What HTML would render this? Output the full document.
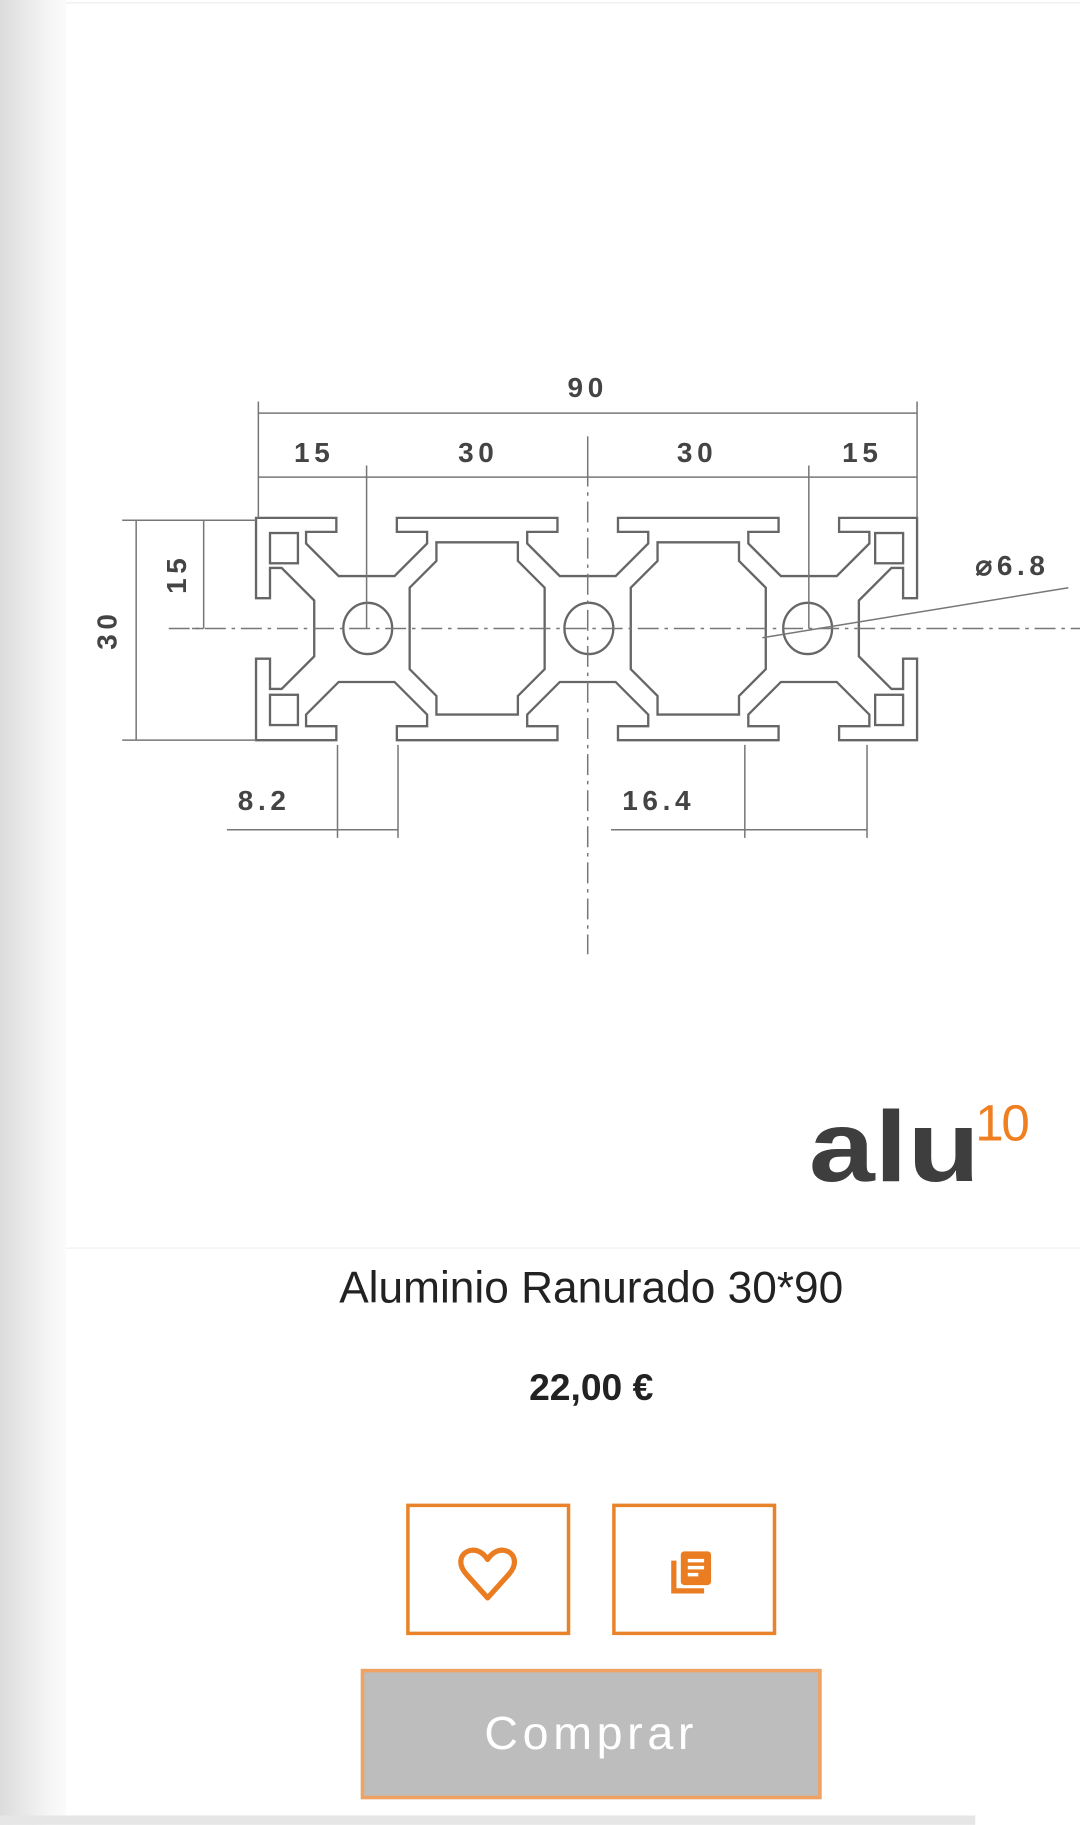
<!DOCTYPE html>
<html><head><meta charset="utf-8"><style>
html,body{margin:0;padding:0;background:#fff;}
body{width:1080px;height:1824px;overflow:hidden;position:relative;}
#w{position:absolute;left:0;top:0;width:928px;height:1568px;transform:scale(1.16379);transform-origin:0 0;font-family:"Liberation Sans",sans-serif;}
.shadow{position:absolute;left:0;top:0;width:57px;height:1568px;background:linear-gradient(90deg,#dcdcdc,#f4f4f4 70%,#fbfbfb);}
.bot{position:absolute;left:0;top:1560px;width:838px;height:8px;background:#e6e6e6;}
.sep{position:absolute;left:57px;top:1072px;width:871px;height:1px;background:#f0f0f0;}
.t{position:absolute;left:208px;width:600px;text-align:center;}
.box{position:absolute;border:3px solid #e8832a;box-sizing:border-box;width:141px;height:113px;top:1292px;}
</style></head><body><div id="w">
<div class="shadow"></div>
<div style="position:absolute;left:57px;top:2px;width:871px;height:1px;background:#ececec"></div>
<svg width="928" height="1080" style="position:absolute;left:0;top:0" font-family="Liberation Sans" font-weight="bold" fill="none">
<g stroke="#777" stroke-width="1.3">
<path d="M220,445 H289 l0,12 l-26,0 l0,10 l28,28 l48,0 l28,-28 l0,-10 l-26,0 l0,-12 H479 l0,12 l-26,0 l0,10 l28,28 l48,0 l28,-28 l0,-10 l-26,0 l0,-12 H669 l0,12 l-26,0 l0,10 l28,28 l48,0 l28,-28 l0,-10 l-26,0 l0,-12 H788 V514 l-12,0 l0,-26 l-10,0 l-28,28 l0,48 l28,28 l10,0 l0,-26 l12,0 V636 H721 l0,-12 l26,0 l0,-10 l-28,-28 l-48,0 l-28,28 l0,10 l26,0 l0,12 H531 l0,-12 l26,0 l0,-10 l-28,-28 l-48,0 l-28,28 l0,10 l26,0 l0,12 H341 l0,-12 l26,0 l0,-10 l-28,-28 l-48,0 l-28,28 l0,10 l26,0 l0,12 H220 V566 l12,0 l0,26 l10,0 l28,-28 l0,-48 l-28,-28 l-10,0 l0,26 l-12,0 Z" stroke-width="2" stroke="#666"/>
<path d="M375,466 H445 V482 L468,505 V575 L445,598 V614 H375 V598 L352,575 V505 L375,482 Z" stroke-width="2" stroke="#666"/>
<path d="M565,466 H635 V482 L658,505 V575 L635,598 V614 H565 V598 L542,575 V505 L565,482 Z" stroke-width="2" stroke="#666"/>
<rect x="232" y="458" width="24" height="26" stroke-width="2" stroke="#666"/>
<rect x="232" y="597" width="24" height="26" stroke-width="2" stroke="#666"/>
<rect x="752" y="458" width="24" height="26" stroke-width="2" stroke="#666"/>
<rect x="752" y="597" width="24" height="26" stroke-width="2" stroke="#666"/>
<ellipse cx="316" cy="540" rx="21" ry="22" stroke-width="2" stroke="#666"/>
<ellipse cx="506" cy="540" rx="21" ry="22" stroke-width="2" stroke="#666"/>
<ellipse cx="694" cy="540" rx="21" ry="22" stroke-width="2" stroke="#666"/>
<path d="M222,345 V445 M788,345 V445 M222,355 H788 M222,410 H788 M315,400 V540 M695,400 V540 M505,375 V400"/>
<path d="M505,400 V820" stroke-dasharray="18,5,3,5"/>
<path d="M145,540 H928" stroke-dasharray="18,5,3,5"/>
<path d="M105,447 H220 M105,636 H220 M117,447 V636 M165,540 H175 M175,447 V540"/>
<path d="M290,640 V720 M342,640 V720 M195,713 H342 M640,640 V720 M745,640 V720 M525,713 H745"/>
<path d="M655,548 L918,505"/>
</g>
<g fill="#444" font-size="24">
<text x="505" y="341" text-anchor="middle" letter-spacing="4">90</text>
<text x="270" y="397" text-anchor="middle" letter-spacing="4">15</text>
<text x="411" y="397" text-anchor="middle" letter-spacing="4">30</text>
<text x="599" y="397" text-anchor="middle" letter-spacing="4">30</text>
<text x="741" y="397" text-anchor="middle" letter-spacing="4">15</text>
<text transform="translate(100,541) rotate(-90)" text-anchor="middle" letter-spacing="4">30</text>
<text transform="translate(160,493) rotate(-90)" text-anchor="middle" letter-spacing="4">15</text>
<text x="227" y="696" text-anchor="middle" letter-spacing="4">8.2</text>
<text x="566" y="696" text-anchor="middle" letter-spacing="4">16.4</text>
<text x="870" y="494" text-anchor="middle" letter-spacing="4">⌀6.8</text>
</g>
<text x="695" y="1015" font-size="86" font-weight="bold" fill="#3e3e3e" textLength="147" lengthAdjust="spacingAndGlyphs">alu</text>
<text x="838" y="980" font-size="44" font-weight="normal" fill="#f07f22" letter-spacing="-2">10</text>
</svg>
<div class="sep"></div>
<div class="t" style="top:1086px;font-size:38px;color:#222;font-weight:300;">Aluminio Ranurado 30*90</div>
<div class="t" style="top:1174px;font-size:32px;color:#222;font-weight:bold;">22,00 €</div>
<div class="box" style="left:349px;">
<svg width="135" height="107" viewBox="0 0 135 107"><path d="M67,78 L49,58 C40,48 44,38 54,37 C61,37 65,42 67,45 C69,42 73,37 80,37 C90,38 94,48 85,58 Z" fill="none" stroke="#ea7d22" stroke-width="4.5" stroke-linejoin="round"/></svg>
</div>
<div class="box" style="left:526px;">
<svg width="135" height="107" viewBox="0 0 135 107"><path d="M50,46 V72 H76" fill="none" stroke="#ea7d22" stroke-width="4.5"/><rect x="56" y="38" width="26" height="29" rx="3" fill="#ea7d22"/><path d="M62,46 H76 M62,52 H76 M62,58 H71" stroke="#fff" stroke-width="3"/></svg>
</div>
<div style="position:absolute;left:310px;top:1434px;width:396px;height:112px;box-sizing:border-box;border:3px solid #f0a262;background:#bdbdbd;color:#fff;font-size:40px;letter-spacing:4px;text-align:center;line-height:106px;">Comprar</div>
<div class="bot"></div>
</div></body></html>
